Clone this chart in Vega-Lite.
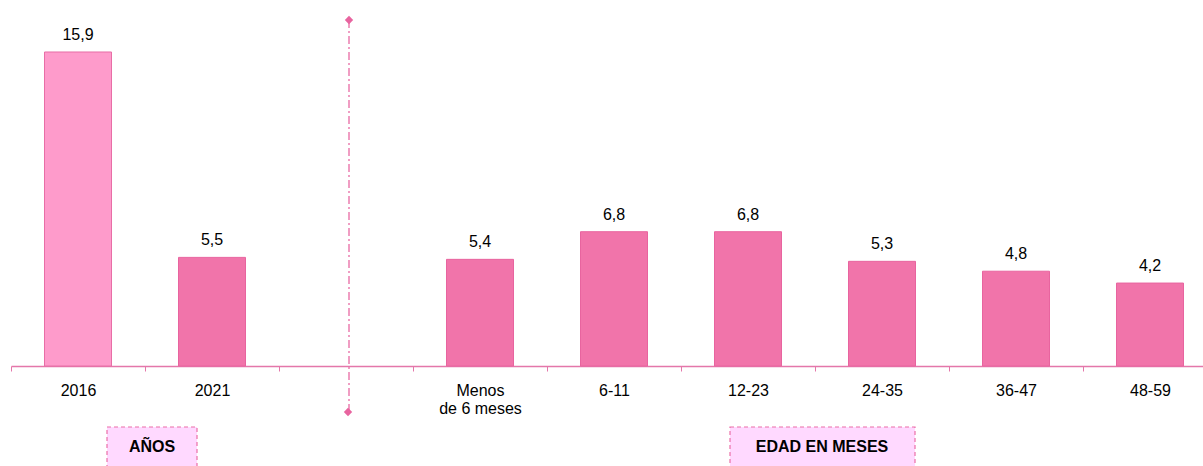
{
  "$schema": "https://vega.github.io/schema/vega-lite/v6.json",
  "width": 1192,
  "height": 346,
  "padding": {"left": 11, "top": 20, "right": 0, "bottom": 100},
  "autosize": {"type": "none"},
  "config": {
    "view": {"stroke": null},
    "locale": {"number": {"decimal": ",", "thousands": ".", "grouping": [3], "currency": ["", "€"]}},
    "font": "Liberation Sans",
    "axisX": {
      "title": null,
      "labelAngle": 0,
      "tickBand": "extent",
      "domainColor": "#E477AA",
      "domainWidth": 1.5,
      "tickColor": "#E477AA",
      "tickSize": 5,
      "tickWidth": 1,
      "labelFont": "Liberation Sans",
      "labelFontSize": 16,
      "labelColor": "#000000",
      "labelPadding": 11,
      "labelLineHeight": 18,
      "grid": false
    }
  },
  "datasets": {
    "main": [
      {"cat": "2016", "v": 15.9},
      {"cat": "2021", "v": 5.5},
      {"cat": "Menos de 6 meses", "v": 5.4},
      {"cat": "6-11", "v": 6.8},
      {"cat": "12-23", "v": 6.8},
      {"cat": "24-35", "v": 5.3},
      {"cat": "36-47", "v": 4.8},
      {"cat": "48-59", "v": 4.2}
    ]
  },
  "encoding": {
    "x": {
      "field": "cat",
      "type": "nominal",
      "scale": {
        "domain": ["2016", "2021", " ", "Menos de 6 meses", "6-11", "12-23", "24-35", "36-47", "48-59"],
        "range": [0, 1206],
        "paddingInner": 0,
        "paddingOuter": 0
      },
      "axis": {
        "title": null,
        "labelAngle": 0,
        "tickBand": "extent",
        "domainColor": "#E477AA",
        "domainWidth": 1.5,
        "tickColor": "#E477AA",
        "tickSize": 5,
        "labelFontSize": 16,
        "labelColor": "#000000",
        "labelPadding": 11,
        "labelLineHeight": 18,
        "labelExpr": "datum.label == 'Menos de 6 meses' ? ['Menos', 'de 6 meses'] : datum.label"
      }
    }
  },
  "layer": [
    {
      "data": {"name": "main"},
      "mark": {"type": "bar", "strokeWidth": 1, "width": {"band": 0.5}},
      "encoding": {
        "y": {"field": "v", "type": "quantitative", "scale": {"domain": [0, 17.52], "nice": false, "zero": true}, "axis": null},
        "color": {
          "field": "cat",
          "type": "nominal",
          "scale": {
            "domain": ["2016", "2021", "Menos de 6 meses", "6-11", "12-23", "24-35", "36-47", "48-59"],
            "range": ["#FE9BCB", "#F174AA", "#F174AA", "#F174AA", "#F174AA", "#F174AA", "#F174AA", "#F174AA"]
          },
          "legend": null
        },
        "stroke": {
          "field": "cat",
          "type": "nominal",
          "scale": {
            "domain": ["2016", "2021", "Menos de 6 meses", "6-11", "12-23", "24-35", "36-47", "48-59"],
            "range": ["#E86EA6", "#E8649F", "#E8649F", "#E8649F", "#E8649F", "#E8649F", "#E8649F", "#E8649F"]
          },
          "legend": null
        }
      }
    },
    {
      "data": {"name": "main"},
      "mark": {"type": "text", "baseline": "alphabetic", "dy": -12, "fontSize": 16, "color": "#000000"},
      "encoding": {
        "y": {"field": "v", "type": "quantitative"},
        "text": {"field": "v", "type": "quantitative", "format": ".1f"}
      }
    },
    {
      "data": {"values": [{"cat": " "}]},
      "mark": {"type": "rule", "color": "#EC7DB0", "strokeWidth": 1.5, "strokeDash": [8, 3, 2, 3], "y2Offset": 46, "xOffset": 3},
      "encoding": {
        "y": {"datum": 17.52},
        "y2": {"datum": 0}
      }
    },
    {
      "data": {"values": [{"cat": " "}]},
      "mark": {"type": "point", "shape": "diamond", "filled": true, "size": 70, "color": "#E8649F", "opacity": 1, "xOffset": 3},
      "encoding": {
        "y": {"datum": 17.52}
      }
    },
    {
      "data": {"values": [{"cat": " "}]},
      "mark": {"type": "point", "shape": "diamond", "filled": true, "size": 70, "color": "#E8649F", "opacity": 1, "yOffset": 46, "xOffset": 2},
      "encoding": {
        "y": {"datum": 0}
      }
    },
    {
      "data": {"values": [{"cat": "2016", "label": "AÑOS"}]},
      "mark": {"type": "rect", "width": 90, "height": 50, "xOffset": 74, "yOffset": 86, "fill": "#FFD9FF", "stroke": "#EC6FA8", "strokeWidth": 1.2, "strokeDash": [4, 3]},
      "encoding": {
        "y": {"datum": 0}
      }
    },
    {
      "data": {"values": [{"cat": "12-23", "label": "EDAD EN MESES"}]},
      "mark": {"type": "rect", "width": 185, "height": 50, "xOffset": 74.5, "yOffset": 86, "fill": "#FFD9FF", "stroke": "#EC6FA8", "strokeWidth": 1.2, "strokeDash": [4, 3]},
      "encoding": {
        "y": {"datum": 0}
      }
    },
    {
      "data": {"values": [{"cat": "2016", "label": "AÑOS"}, {"cat": "12-23", "label": "EDAD EN MESES"}]},
      "mark": {"type": "text", "fontSize": 16, "fontWeight": "bold", "color": "#000000", "xOffset": 74, "yOffset": 81, "baseline": "middle"},
      "encoding": {
        "y": {"datum": 0},
        "text": {"field": "label"}
      }
    }
  ]
}
